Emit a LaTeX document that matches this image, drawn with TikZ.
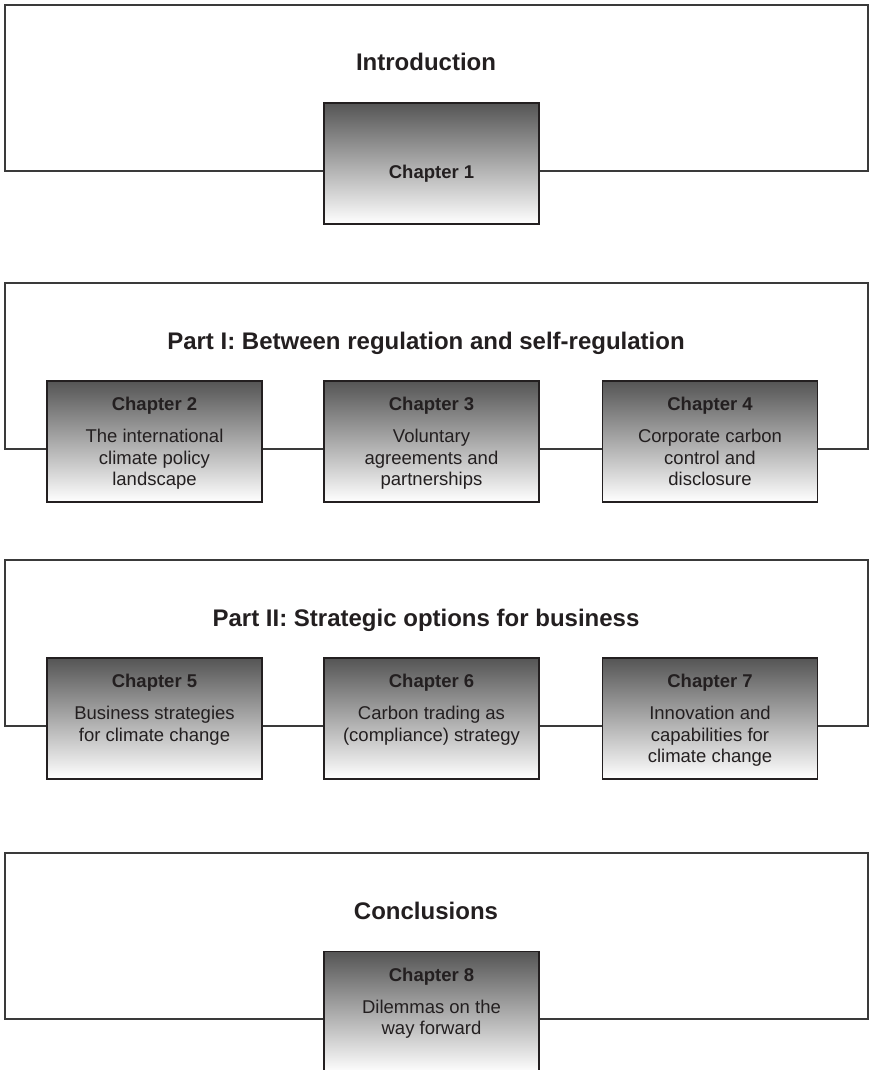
\documentclass[tikz,border=0pt]{standalone}
\usepackage{fontspec}
\setmainfont{Liberation Sans}
\usepackage{tikz}
\usetikzlibrary{positioning}
\definecolor{ink}{HTML}{231F20}
\definecolor{rim}{HTML}{3A3A3A}
\definecolor{shadetop}{HTML}{555555}
\definecolor{shademid}{HTML}{C4C4C4}

\begin{document}
\begin{tikzpicture}[x=1pt, y=1pt, text=ink,
  part/.style={draw=rim, line width=1.3pt, minimum width=863pt, minimum height=166pt, inner sep=0pt},
  ttl/.style={font=\fontsize{24}{28}\selectfont\bfseries, anchor=base, inner sep=0pt},
  chap/.style={draw=ink, line width=1.4pt, top color=shadetop, middle color=shademid, bottom color=white, minimum width=215pt, minimum height=121pt, inner sep=0pt},
  ctext/.style={font=\fontsize{18.5}{21.5}\selectfont, align=center, inner sep=0pt}]
\useasboundingbox (0,0) rectangle (871,-1070);
\clip (0,0) rectangle (871,-1070);
% outer frames
\node[part] (intro) at (436.5,-88) {};
\node[part] (part1) at (436.5,-366) {};
\node[part] (part2) at (436.5,-643) {};
\node[part] (concl) at (436.5,-936) {};
\node[ttl] (introttl) at (426,-71) {Introduction};
\node[ttl] (part1ttl) at (426,-349) {Part I: Between regulation and self-regulation};
\node[ttl] (part2ttl) at (426,-626) {Part II: Strategic options for business};
\node[ttl] (conclttl) at (426,-919) {Conclusions};
% chapter boxes
\node[chap] (ch1) at (431.5,-163.5) {};
\node[chap] (ch2) at (154.5,-441.5) {};
\node[chap] (ch3) at (431.5,-441.5) {};
\node[chap] (ch4) at (710,-441.5) {};
\node[chap] (ch5) at (154.5,-718.5) {};
\node[chap] (ch6) at (431.5,-718.5) {};
\node[chap] (ch7) at (710,-718.5) {};
\node[chap] (ch8) at (431.5,-1012) {};
\node[ctext, below=76pt of ch1.north, anchor=base] (ch1txt) {\bfseries Chapter 1};
\node[ctext, below=16.7pt of ch2.north] (ch2txt) {{\bfseries Chapter 2}\\[10.5pt]The international\\climate policy\\landscape};
\node[ctext, below=16.7pt of ch3.north] (ch3txt) {{\bfseries Chapter 3}\\[10.5pt]Voluntary\\agreements and\\partnerships};
\node[ctext, below=16.7pt of ch4.north] (ch4txt) {{\bfseries Chapter 4}\\[10.5pt]Corporate carbon\\control and\\disclosure};
\node[ctext, below=16.7pt of ch5.north] (ch5txt) {{\bfseries Chapter 5}\\[10.5pt]Business strategies\\for climate change};
\node[ctext, below=16.7pt of ch6.north] (ch6txt) {{\bfseries Chapter 6}\\[10.5pt]Carbon trading as\\(compliance) strategy};
\node[ctext, below=16.7pt of ch7.north] (ch7txt) {{\bfseries Chapter 7}\\[10.5pt]Innovation and\\capabilities for\\climate change};
\node[ctext, below=16.7pt of ch8.north] (ch8txt) {{\bfseries Chapter 8}\\[10.5pt]Dilemmas on the\\way forward};
\end{tikzpicture}
\end{document}
